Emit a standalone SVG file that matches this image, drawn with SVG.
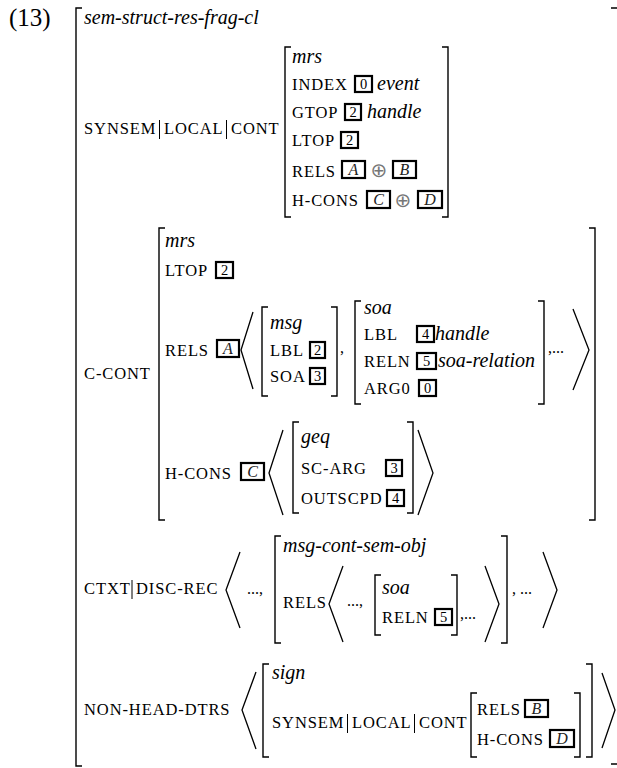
<svg xmlns="http://www.w3.org/2000/svg" width="617" height="768" viewBox="0 0 617 768">
<style>
text{font-family:"Liberation Serif","Times New Roman",serif;fill:#000}
.sc{font-size:16.5px;letter-spacing:0.9px}
.it{font-size:20px;font-style:italic}
.pl{font-size:16px}
.num{font-size:14.5px;text-anchor:middle}
.let{font-size:16px;font-style:italic;text-anchor:middle;fill:#222}
.op{font-family:"DejaVu Sans",sans-serif;font-size:20px;fill:#777;text-anchor:middle}
.br{fill:none;stroke:#000;stroke-width:1.4}
.ang{fill:none;stroke:#000;stroke-width:1.3}
.bx{fill:none;stroke:#000;stroke-width:2.2}
.bar{stroke:#000;stroke-width:1}
</style>
<rect width="617" height="768" fill="#fff"/>
<text x="9" y="26" style="font-size:25px">(13)</text>

<g id="outer">
<path class="br" d="M82,8 H76 V766 H82"/>
<path class="br" d="M611,8 H618.5 V764 H611"/>
<text class="it" x="84" y="24">sem-struct-res-frag-cl</text>
</g>

<g id="synsem-row">
<text class="sc" x="84" y="134">SYNSEM</text>
<line class="bar" x1="159.5" y1="120" x2="159.5" y2="139"/>
<text class="sc" x="164" y="134">LOCAL</text>
<line class="bar" x1="226.5" y1="120" x2="226.5" y2="139"/>
<text class="sc" x="231" y="134">CONT</text>
</g>

<g id="cont-mrs">
<path class="br" d="M291,47 H285 V217 H291"/>
<path class="br" d="M442,47 H448 V217 H442"/>
<text class="it" x="292" y="63">mrs</text>
<text class="sc" x="292" y="90">INDEX</text>
<rect class="bx" x="355" y="76" width="17" height="16"/><text class="num" x="363.5" y="89">0</text>
<text class="it" x="377" y="90">event</text>
<text class="sc" x="292" y="118">GTOP</text>
<rect class="bx" x="345" y="104" width="16" height="16"/><text class="num" x="353" y="117">2</text>
<text class="it" x="367" y="118">handle</text>
<text class="sc" x="292" y="146">LTOP</text>
<rect class="bx" x="341" y="132" width="17" height="16"/><text class="num" x="349.5" y="145">2</text>
<text class="sc" x="292" y="177">RELS</text>
<rect class="bx" x="342" y="161" width="23" height="17"/><text class="let" x="353.5" y="175">A</text>
<text class="op" x="379" y="177">⊕</text>
<rect class="bx" x="393" y="161" width="23" height="17"/><text class="let" x="404.5" y="175">B</text>
<text class="sc" x="292" y="206">H-CONS</text>
<rect class="bx" x="367" y="191" width="23" height="17"/><text class="let" x="378.5" y="205">C</text>
<text class="op" x="403" y="207">⊕</text>
<rect class="bx" x="418" y="191" width="24" height="17"/><text class="let" x="430" y="205">D</text>
</g>

<g id="c-cont">
<text class="sc" x="84" y="379">C-CONT</text>
<path class="br" d="M165,228 H159 V520 H165"/>
<path class="br" d="M589,228 H595 V520 H589"/>
<text class="it" x="165" y="247">mrs</text>
<text class="sc" x="165" y="276">LTOP</text>
<rect class="bx" x="216" y="262" width="17" height="16"/><text class="num" x="224.5" y="275">2</text>
<text class="sc" x="165" y="356">RELS</text>
<rect class="bx" x="217" y="340" width="22" height="17"/><text class="let" x="228" y="354">A</text>
<polyline class="ang" points="253,312 241,350 253,389"/>
<text class="sc" x="165" y="479">H-CONS</text>
<rect class="bx" x="241" y="463" width="23" height="17"/><text class="let" x="252.5" y="477">C</text>
<polyline class="ang" points="283,430 269,473 283,515"/>
<polyline class="ang" points="418,430 433,473 418,515"/>
</g>

<g id="msg">
<path class="br" d="M268,307 H262 V396 H268"/>
<path class="br" d="M331,307 H337 V396 H331"/>
<text class="it" x="270" y="329">msg</text>
<text class="sc" x="270" y="356">LBL</text>
<rect class="bx" x="310" y="342" width="15" height="16"/><text class="num" x="317.5" y="355">2</text>
<text class="sc" x="270" y="382">SOA</text>
<rect class="bx" x="310" y="368" width="15" height="16"/><text class="num" x="317.5" y="381">3</text>
<text class="pl" x="340" y="353">,</text>
</g>

<g id="soa1">
<path class="br" d="M361,301 H355 V404 H361"/>
<path class="br" d="M538,301 H544 V404 H538"/>
<text class="it" x="364" y="314">soa</text>
<text class="sc" x="364" y="340">LBL</text>
<rect class="bx" x="417" y="326" width="17" height="16"/><text class="num" x="425.5" y="339">4</text>
<text class="it" x="435" y="340">handle</text>
<text class="sc" x="364" y="367">RELN</text>
<rect class="bx" x="417" y="353" width="19" height="16"/><text class="num" x="426.5" y="366">5</text>
<text class="it" x="438" y="367">soa-relation</text>
<text class="sc" x="364" y="394">ARG0</text>
<rect class="bx" x="419" y="380" width="17" height="16"/><text class="num" x="427.5" y="393">0</text>
<text class="pl" x="548" y="353">,...</text>
<polyline class="ang" points="573,309 589,350 573,390"/>
</g>

<g id="geq">
<path class="br" d="M299,422 H293 V513 H299"/>
<path class="br" d="M407,422 H413 V513 H407"/>
<text class="it" x="301" y="443">geq</text>
<text class="sc" x="301" y="474">SC-ARG</text>
<rect class="bx" x="386" y="460" width="16" height="16"/><text class="num" x="394" y="473">3</text>
<text class="sc" x="301" y="504">OUTSCPD</text>
<rect class="bx" x="387" y="490" width="17" height="16"/><text class="num" x="395.5" y="503">4</text>
</g>

<g id="ctxt-row">
<text class="sc" x="84" y="594">CTXT</text>
<line class="bar" x1="132" y1="580" x2="132" y2="599"/>
<text class="sc" x="136" y="594">DISC-REC</text>
<polyline class="ang" points="240,552 226,590 240,628"/>
<text class="pl" x="247" y="594">...,</text>
<text class="pl" x="512" y="594">, ...</text>
<polyline class="ang" points="543,552 557,590 543,628"/>
</g>

<g id="msg-cont-sem-obj">
<path class="br" d="M281,536 H275 V643 H281"/>
<path class="br" d="M501,536 H507 V643 H501"/>
<text class="it" x="283" y="552">msg-cont-sem-obj</text>
<text class="sc" x="283" y="608">RELS</text>
<polyline class="ang" points="343,566 329,604 343,642"/>
<text class="pl" x="347" y="606">...,</text>
<text class="pl" x="460" y="619">,...</text>
<polyline class="ang" points="485,566 499,604 485,642"/>
</g>

<g id="soa2">
<path class="br" d="M381,575 H375 V635 H381"/>
<path class="br" d="M451,575 H457 V635 H451"/>
<text class="it" x="382" y="594">soa</text>
<text class="sc" x="382" y="623">RELN</text>
<rect class="bx" x="435" y="609" width="17" height="16"/><text class="num" x="443.5" y="622">5</text>
</g>

<g id="non-head-row">
<text class="sc" x="84" y="715">NON-HEAD-DTRS</text>
<polyline class="ang" points="256,672 242,710 256,749"/>
<polyline class="ang" points="602,673 615,710 602,748"/>
</g>

<g id="sign">
<path class="br" d="M269,664 H263 V757 H269"/>
<path class="br" d="M586,664 H592 V757 H586"/>
<text class="it" x="272" y="679">sign</text>
<text class="sc" x="272" y="728">SYNSEM</text>
<line class="bar" x1="347.5" y1="714" x2="347.5" y2="733"/>
<text class="sc" x="352" y="728">LOCAL</text>
<line class="bar" x1="414.5" y1="714" x2="414.5" y2="733"/>
<text class="sc" x="419" y="728">CONT</text>
</g>

<g id="sign-cont">
<path class="br" d="M477,693 H471 V757 H477"/>
<path class="br" d="M574,693 H580 V757 H574"/>
<text class="sc" x="477" y="715">RELS</text>
<rect class="bx" x="525" y="700" width="23" height="17"/><text class="let" x="536.5" y="714">B</text>
<text class="sc" x="477" y="745">H-CONS</text>
<rect class="bx" x="550" y="730" width="24" height="17"/><text class="let" x="562" y="744">D</text>
</g>
</svg>
